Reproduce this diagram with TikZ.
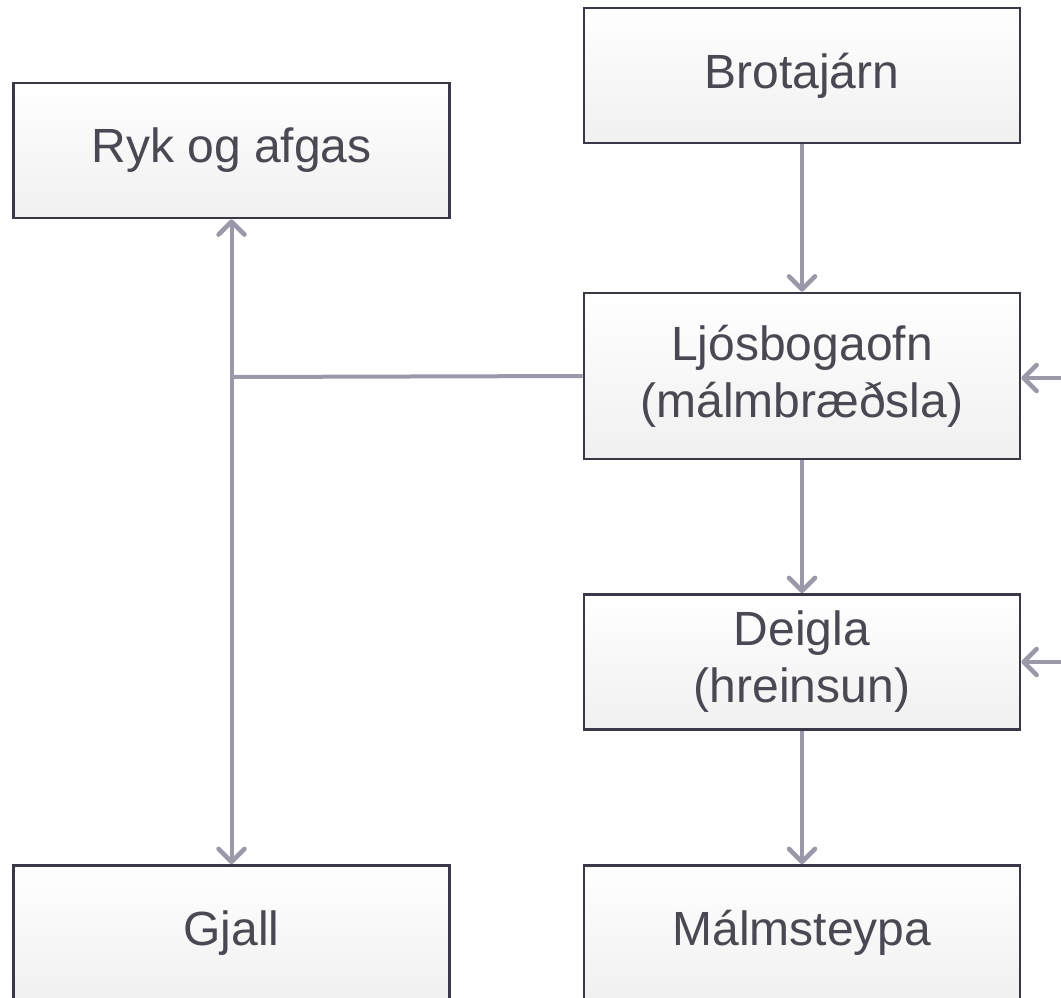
\documentclass[tikz,border=0pt]{standalone}
\usepackage{fontspec}
\setmainfont{Liberation Sans}
\usetikzlibrary{arrows.meta}
\definecolor{boxline}{HTML}{3A3746}
\definecolor{boxfill}{HTML}{F0F0F0}
\definecolor{arrowc}{HTML}{9B98AA}
\definecolor{txt}{HTML}{4A4852}
\tikzset{
  box/.style={draw=boxline, line width=2.8pt, top color=white, bottom color=boxfill,
    minimum width=436pt, minimum height=135pt, inner sep=0pt, align=center,
    text=txt, font=\fontsize{48}{57}\selectfont},
  conn/.style={draw=arrowc, line width=4pt},
  arr/.style={conn, -{Straight Barb[length=13pt,width=26pt,line width=4.5pt,round]}},
  dbl/.style={conn, {Straight Barb[length=13pt,width=26pt,line width=4.5pt,round]}-{Straight Barb[length=13pt,width=26pt,line width=4.5pt,round]}}
}
\begin{document}
\begin{tikzpicture}[x=1pt,y=-1pt]
\useasboundingbox (0,0) rectangle (1061,997);
\clip (0,0) rectangle (1061,997);
\node[box] (brot) at (802,75.5) {Brotajárn};
\node[box] (ryk) at (231.5,150.5) {Ryk og afgas};
\node[box, minimum height=166pt] (ljos) at (802,376) {Ljósbogaofn\\(málmbræðsla)};
\node[box] (deig) at (802,662) {Deigla\\(hreinsun)};
\node[box] (gjall) at (231.5,933) {Gjall};
\node[box] (malm) at (802,933) {Málmsteypa};
\coordinate (jn) at (232,377);
\coordinate (in1) at (1090,378);
\coordinate (in2) at (1090,662);
\draw[arr] (brot) -- (ljos);
\draw[arr] (ljos) -- (deig);
\draw[arr] (deig) -- (malm);
\draw[dbl] (gjall.north) -- (ryk.south);
\draw[conn] (ljos.west) -- (jn);
\draw[arr] (in1) -- (ljos.east |- in1);
\draw[arr] (in2) -- (deig.east |- in2);
\end{tikzpicture}
\end{document}
